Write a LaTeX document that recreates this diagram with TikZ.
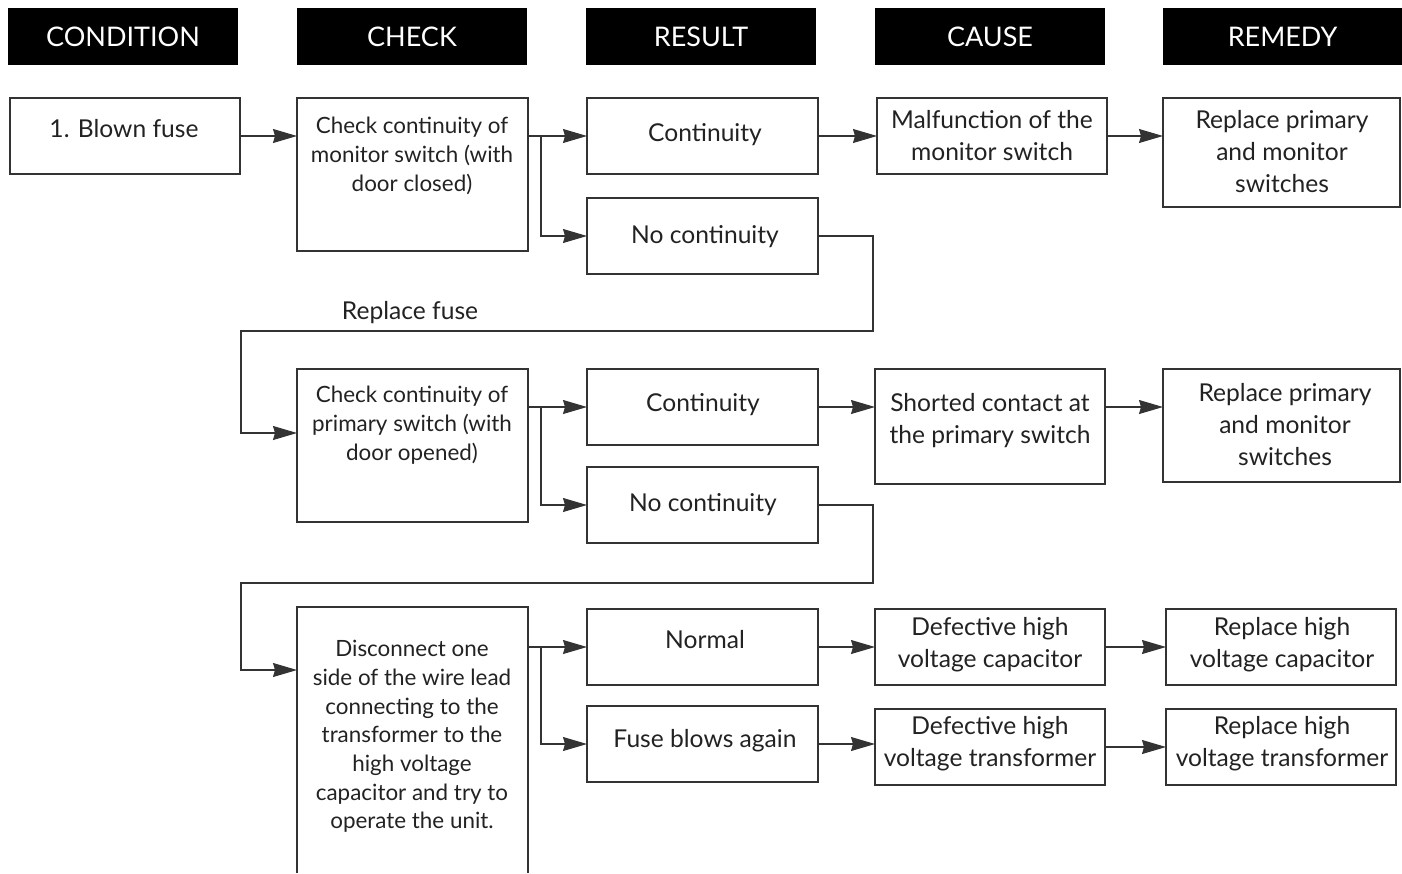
\documentclass[tikz,border=0pt]{standalone}
\usepackage{fontspec}
\setmainfont{Lato}
\usetikzlibrary{arrows.meta}
\definecolor{ink}{HTML}{222222}
\definecolor{edge}{HTML}{333333}
\begin{document}
\begin{tikzpicture}[x=1pt,y=-1pt,
  box/.style={draw=edge, line width=1.1pt, inner sep=0pt, outer sep=0pt, anchor=north west},
  hdr/.style={fill=black, text=white, inner sep=0pt, outer sep=0pt, anchor=north west, minimum height=57pt, font=\fontsize{27}{32}\selectfont},
  txt/.style={text=ink, align=center, inner sep=0pt, font=\fontsize{24.6}{32}\selectfont},
  stxt/.style={text=ink, align=center, inner sep=0pt, font=\fontsize{22.4}{28.7}\selectfont},
  arr/.style={draw=edge, line width=1.1pt, -{Stealth[length=24pt,width=14pt,inset=2pt]}},
  ln/.style={draw=edge, line width=1.1pt}]
\useasboundingbox (0,0) rectangle (1402,873);
% headers
\node[hdr, minimum width=230pt] (h1) at (8,8) {CONDITION};
\node[hdr, minimum width=230pt] (h2) at (297,8) {CHECK};
\node[hdr, minimum width=230pt] (h3) at (586,8) {RESULT};
\node[hdr, minimum width=230pt] (h4) at (875,8) {CAUSE};
\node[hdr, minimum width=239pt] (h5) at (1163,8) {REMEDY};
% boxes row 1
\node[box, minimum width=230pt, minimum height=76pt] (fuse) at (10,98) {};
\node[box, minimum width=231pt, minimum height=153pt] (chk1) at (297,98) {};
\node[box, minimum width=231pt, minimum height=76pt] (cont1) at (587,98) {};
\node[box, minimum width=230pt, minimum height=76pt] (mal) at (877,98) {};
\node[box, minimum width=237pt, minimum height=109pt] (rep1) at (1163,98) {};
\node[box, minimum width=231pt, minimum height=76pt] (nc1) at (587,198) {};
% row 2
\node[box, minimum width=231pt, minimum height=153pt] (chk2) at (297,369) {};
\node[box, minimum width=231pt, minimum height=76pt] (cont2) at (587,369) {};
\node[box, minimum width=230pt, minimum height=115pt] (sho) at (875,369) {};
\node[box, minimum width=237pt, minimum height=113pt] (rep2) at (1163,369) {};
\node[box, minimum width=231pt, minimum height=76pt] (nc2) at (587,467) {};
% row 3
\node[box, draw=none, minimum width=231pt, minimum height=266pt] (dis) at (297,607) {};
\draw[ln] (dis.south west) -- (dis.north west) -- (dis.north east) -- (dis.south east);
\node[box, minimum width=231pt, minimum height=76pt] (norm) at (587,609) {};
\node[box, minimum width=231pt, minimum height=76pt] (fba) at (587,706) {};
\node[box, minimum width=230pt, minimum height=76pt] (dcap) at (875,609) {};
\node[box, minimum width=230pt, minimum height=76pt] (dtr) at (875,709) {};
\node[box, minimum width=230pt, minimum height=76pt] (rcap) at (1166,609) {};
\node[box, minimum width=230pt, minimum height=76pt] (rtr) at (1166,709) {};
% texts
\node[txt] (tfuse) at (124,129) {1. Blown fuse};
\node[stxt] (tchk1) at (412,156) {Check continuity of\\monitor switch (with\\door closed)};
\node[txt] (tcont1) at (705,135) {Continuity};
\node[txt] (tmal) at (992,136) {Malfunction of the\\monitor switch};
\node[txt] (trep1) at (1282,152) {Replace primary\\and monitor\\switches};
\node[txt] (tnc1) at (705,237) {No continuity};
\node[txt] (trf) at (410,313) {Replace fuse};
\node[stxt] (tchk2) at (412,425) {Check continuity of\\primary switch (with\\door opened)};
\node[txt] (tcont2) at (703,405) {Continuity};
\node[txt] (tsho) at (990,421) {Shorted contact at\\the primary switch};
\node[txt] (trep2) at (1285,425) {Replace primary\\and monitor\\switches};
\node[txt] (tnc2) at (703,505) {No continuity};
\node[stxt] (tdis) at (412,736.5) {Disconnect one\\side of the wire lead\\connecting to the\\transformer to the\\high voltage\\capacitor and try to\\operate the unit.};
\node[txt] (tnorm) at (705,640) {Normal};
\node[txt] (tfba) at (705,741) {Fuse blows again};
\node[txt] (tdcap) at (990,645) {Defective high\\voltage capacitor};
\node[txt] (tdtr) at (990,744) {Defective high\\voltage transformer};
\node[txt] (trcap) at (1282,645) {Replace high\\voltage capacitor};
\node[txt] (trtr) at (1282,744) {Replace high\\voltage transformer};
% junction / loop coordinates
\coordinate (j1) at (541,136);
\coordinate (j2) at (541,407);
\coordinate (j3) at (541,647);
\coordinate (lp1a) at (873,331);
\coordinate (lp1b) at (241,433);
\coordinate (lp2a) at (873,583);
\coordinate (lp2b) at (241,670);
% connectors row 1
\draw[arr] (fuse.east) -- (fuse.east -| chk1.west);
\draw[arr] (chk1.east |- cont1.west) -- (cont1.west);
\draw[arr] (j1) |- (nc1.west);
\draw[arr] (cont1.east) -- (mal.west);
\draw[arr] (mal.east) -- (mal.east -| rep1.west);
\draw[arr] (nc1.east) -| (lp1a) -| (lp1b) -- (lp1b -| chk2.west);
% row 2
\draw[arr] (chk2.east |- cont2.west) -- (cont2.west);
\draw[arr] (j2) |- (nc2.west);
\draw[arr] (cont2.east) -- (cont2.east -| sho.west);
\draw[arr] (cont2.east -| sho.east) -- (cont2.east -| rep2.west);
\draw[arr] (nc2.east) -| (lp2a) -| (lp2b) -- (lp2b -| dis.west);
% row 3
\draw[arr] (dis.east |- norm.west) -- (norm.west);
\draw[arr] (j3) |- (fba.west);
\draw[arr] (norm.east) -- (norm.east -| dcap.west);
\draw[arr] (dcap.east) -- (rcap.west);
\draw[arr] (fba.east) -- (fba.east -| dtr.west);
\draw[arr] (dtr.east) -- (rtr.west);
\end{tikzpicture}
\end{document}
